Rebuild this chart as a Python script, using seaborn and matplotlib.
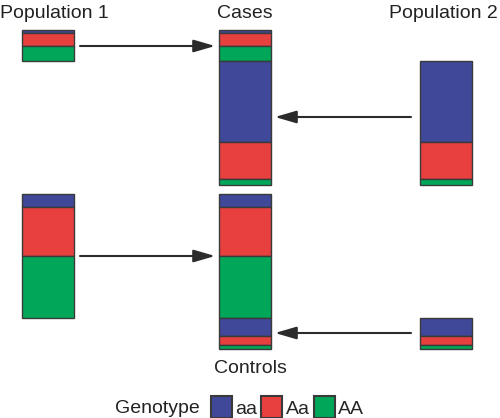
import numpy as np
import matplotlib.pyplot as plt
import seaborn as sns

sns.set_style('white')
plt.rcParams['font.family'] = ['Liberation Sans', 'DejaVu Sans']

genotypes = ['aa', 'Aa', 'AA']
palette = ['#40489A', '#E8403F', '#00A758']

# genotype counts (aa, Aa, AA)
pop1_cases = [3, 13, 15]
pop2_cases = [81, 37, 6]
pop1_controls = [13, 49, 62]
pop2_controls = [18, 9, 4]

EDGE = '#3a3a3a'
BAR_W = 52
X_POP1, X_MIX, X_POP2 = 48, 245, 446
TOP_CASES, TOP_CONTROLS = 30, 194


def stacked_bar(ax, x, top, counts, label=False):
    """Barra apilada que crece hacia abajo desde top"""
    counts = np.asarray(counts, dtype=float)
    bottoms = top + np.concatenate([[0], np.cumsum(counts)[:-1]])
    for i, (h, b) in enumerate(zip(counts, bottoms)):
        ax.bar(x, h, bottom=b, width=BAR_W, color=palette[i], edgecolor=EDGE,
               linewidth=1.0, label=genotypes[i] if label else None)
    return top + counts.sum()


def arrow(ax, x0, x1, y):
    ax.annotate('', xy=(x1, y), xytext=(x0, y),
                arrowprops=dict(arrowstyle='-|>,head_length=1.3,head_width=0.38',
                                mutation_scale=10, color='#2b2b2b', lw=1.5,
                                shrinkA=0, shrinkB=0))


fig = plt.figure(figsize=(5.0, 4.18), dpi=100)
ax = fig.add_axes([0, 0, 1, 1])
ax.set_xlim(0, 500)
ax.set_ylim(418, 0)
ax.axis('off')

# fila de casos
stacked_bar(ax, X_POP1, TOP_CASES, pop1_cases)
mid = stacked_bar(ax, X_MIX, TOP_CASES, pop1_cases, label=True)
stacked_bar(ax, X_MIX, mid, pop2_cases)
stacked_bar(ax, X_POP2, mid, pop2_cases)

# fila de controles
stacked_bar(ax, X_POP1, TOP_CONTROLS, pop1_controls)
mid2 = stacked_bar(ax, X_MIX, TOP_CONTROLS, pop1_controls)
stacked_bar(ax, X_MIX, mid2, pop2_controls)
stacked_bar(ax, X_POP2, mid2, pop2_controls)

arrow(ax, 80, 215, 46)
arrow(ax, 411, 275, 117)
arrow(ax, 80, 215, 256)
arrow(ax, 411, 275, 333)

fs = 14
tc = '#222222'
ax.text(0, 18, 'Population 1', fontsize=fs, ha='left', va='baseline', color=tc)
ax.text(X_MIX, 18, 'Cases', fontsize=fs, ha='center', va='baseline', color=tc)
ax.text(498, 18, 'Population 2', fontsize=fs, ha='right', va='baseline', color=tc)
ax.text(250, 373, 'Controls', fontsize=fs, ha='center', va='baseline', color=tc)
ax.text(200, 413, 'Genotype', fontsize=fs, ha='right', va='baseline', color=tc)

leg = ax.legend(loc='lower left', bbox_to_anchor=(211, 418), bbox_transform=ax.transData,
                ncol=3, frameon=False, fontsize=fs, borderpad=0, borderaxespad=0,
                handlelength=1.08, handleheight=1.36, handletextpad=0.18,
                columnspacing=0.2)
for h in leg.legend_handles:
    h.set_linewidth(1.5)
    h.set_edgecolor(EDGE)

fig.savefig('out.png', dpi=100)
